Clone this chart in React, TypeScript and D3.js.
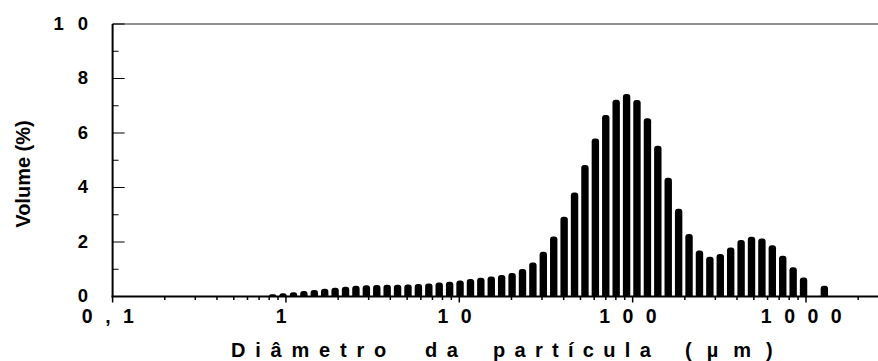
import React from "react";
import * as d3 from "d3";

// Particle size distribution (volume % per size class)
const diameters = [
  0.838, 0.962, 1.105, 1.269, 1.457, 1.673, 1.921, 2.207, 2.533, 2.91,
  3.341, 3.836, 4.405, 5.058, 5.808, 6.671, 7.657, 8.795, 10.1, 11.6,
  13.31, 15.29, 17.55, 20.16, 23.15, 26.58, 30.52, 35.05, 40.25, 46.22,
  53.07, 60.94, 69.97, 80.35, 92.26, 105.9, 121.7, 139.7, 160.4, 184.2,
  211.5, 242.9, 278.9, 320.2, 367.7, 422.3, 484.9, 556.8, 639.3, 734.2,
  843.0, 968.1, 1111, 1276,
];
const volumes = [
  0.08, 0.12, 0.16, 0.2, 0.24, 0.28, 0.32, 0.36, 0.39, 0.41,
  0.42, 0.43, 0.43, 0.44, 0.46, 0.48, 0.51, 0.54, 0.59, 0.64,
  0.69, 0.73, 0.79, 0.86, 1.01, 1.25, 1.64, 2.2, 2.93, 3.82,
  4.83, 5.8, 6.66, 7.22, 7.43, 7.21, 6.54, 5.53, 4.36, 3.22,
  2.29, 1.69, 1.46, 1.56, 1.8, 2.07, 2.19, 2.13, 1.88, 1.5,
  1.07, 0.7, 0, 0.39,
];

const yMajorTicks = [0, 2, 4, 6, 8, 10];
const yMinorTicks = [1, 3, 5, 7, 9];
const xMajorTicks = [0.1, 1, 10, 100, 1000];
const xTickLabels = ["0,1", "1", "10", "100", "1000"];
const xTitleWords = ["Diâmetro", "da", "partícula", "(µm)"];
const yTitle = "Volume (%)";

const W = 878;
const H = 361;
const plotLeft = 112.6;
const plotRight = 878;
const plotTop = 24;
const plotBottom = 296.5;
const decadePx = 173.35;

const FONT = "'Liberation Sans', Arial, Helvetica, sans-serif";

export default function App() {
  const xMax = 0.1 * Math.pow(10, (plotRight - plotLeft) / decadePx);
  const x = d3.scaleLog().domain([0.1, xMax]).range([plotLeft, plotRight]);
  const y = d3.scaleLinear().domain([0, 10]).range([plotBottom, plotTop]);

  const minorX: number[] = [];
  for (const dec of [0.1, 1, 10, 100, 1000]) {
    for (let m = 2; m <= 9; m++) {
      const v = dec * m;
      if (v < xMax) minorX.push(v);
    }
  }

  const barW = 7.4;
  const barPath = (d: number, v: number) => {
    if (v <= 0) return "";
    const cx = x(d);
    const x0 = cx - barW / 2;
    const x1 = cx + barW / 2;
    const y0 = y(0);
    const yt = y(v);
    const h = y0 - yt;
    const r = Math.min(barW / 2, h, 3);
    return `M${x0},${y0}L${x0},${yt + r}A${r},${r} 0 0 1 ${x0 + r},${yt}L${x1 - r},${yt}A${r},${r} 0 0 1 ${x1},${yt + r}L${x1},${y0}Z`;
  };

  // word starts and letter spacing of the spaced-out x-axis title
  const titleStarts = [231, 425, 493, 685];
  const titleSpacing = [9.8, 9.5, 9.3, 15];

  return (
    <svg width={W} height={H} style={{ position: "absolute", left: 0, top: 0, background: "#fff" }}>
      {/* bars */}
      <g fill="#000">
        {diameters.map((d, i) => (
          <path key={i} d={barPath(d, volumes[i])} />
        ))}
      </g>

      {/* frame top */}
      <line x1={plotLeft} x2={plotRight} y1={plotTop} y2={plotTop} stroke="#222" strokeWidth={1.2} />

      {/* y axis */}
      <line x1={plotLeft} x2={plotLeft} y1={plotTop} y2={plotBottom + 1} stroke="#000" strokeWidth={2} />
      {yMajorTicks.map((t) => (
        <line key={"ym" + t} x1={plotLeft} x2={plotLeft + 12} y1={y(t)} y2={y(t)} stroke="#000" strokeWidth={1} />
      ))}
      {yMinorTicks.map((t) => (
        <line key={"yn" + t} x1={plotLeft} x2={plotLeft + 6} y1={y(t)} y2={y(t)} stroke="#000" strokeWidth={1} />
      ))}
      {yMajorTicks.map((t) => (
        <text
          key={"yl" + t}
          x={88 + 14}
          y={y(t) + 5.6}
          textAnchor="end"
          fontFamily={FONT}
          fontWeight="bold"
          fontSize={18.5}
          letterSpacing={14}
        >
          {String(t)}
        </text>
      ))}

      {/* x axis */}
      <line x1={plotLeft - 1} x2={plotRight} y1={plotBottom} y2={plotBottom} stroke="#000" strokeWidth={2} />
      {xMajorTicks.map((t) => (
        <line key={"xm" + t} x1={x(t)} x2={x(t)} y1={plotBottom} y2={plotBottom + 6} stroke="#000" strokeWidth={1.5} />
      ))}
      {minorX.map((t, i) => (
        <line key={"xn" + i} x1={x(t)} x2={x(t)} y1={plotBottom} y2={plotBottom + 3.5} stroke="#000" strokeWidth={1.5} />
      ))}
      {xMajorTicks.map((t, i) => (
        <text
          key={"xl" + t}
          x={x(t) + 1.5}
          y={323}
          textAnchor="middle"
          fontFamily={FONT}
          fontWeight="bold"
          fontSize={19.5}
          letterSpacing={12.5}
        >
          {xTickLabels[i]}
        </text>
      ))}

      {/* axis titles */}
      <text y={356.5} fontFamily={FONT} fontWeight="bold" fontSize={20}>
        {xTitleWords.map((w, i) => (
          <tspan key={w} x={titleStarts[i]} letterSpacing={titleSpacing[i]}>
            {w}
          </tspan>
        ))}
      </text>
      <text
        transform={`translate(30,174) rotate(-90)`}
        textAnchor="middle"
        fontFamily={FONT}
        fontWeight="bold"
        fontSize={20}
      >
        {yTitle}
      </text>
    </svg>
  );
}
